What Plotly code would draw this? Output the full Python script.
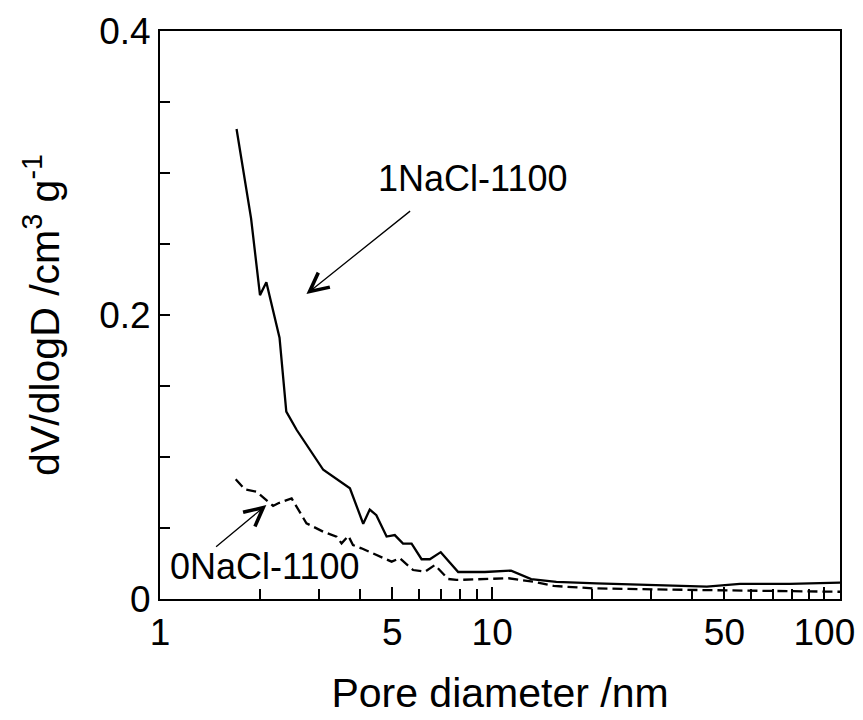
import numpy as np
import plotly.graph_objects as go

# 1NaCl-1100 (solid)
d1 = [1.70, 1.88, 2.00, 2.09, 2.29, 2.40, 2.58, 3.10, 3.73, 4.09, 4.28, 4.48, 4.81, 5.09,
      5.39, 5.72, 6.13, 6.49, 7.00, 7.90, 9.50, 11.4, 13.1, 15.6, 20.6, 44.3, 55.7, 78.8, 111.5]
v1 = [0.331, 0.268, 0.214, 0.223, 0.184, 0.132, 0.119, 0.091, 0.078, 0.053, 0.063, 0.059, 0.044, 0.045,
      0.039, 0.039, 0.028, 0.028, 0.033, 0.019, 0.019, 0.020, 0.014, 0.012, 0.011, 0.0087, 0.0106, 0.0106, 0.0115]

# 0NaCl-1100 (dashed)
d0 = [1.69, 1.80, 1.95, 2.19, 2.27, 2.49, 2.76, 3.10, 3.40, 3.52, 3.69, 3.81, 4.04, 4.59, 4.98,
      5.27, 5.78, 6.27, 6.72, 7.37, 7.81, 11.2, 13.3, 15.3, 20.1, 42.3, 111.5]
v0 = [0.0843, 0.0773, 0.0756, 0.0655, 0.0674, 0.0709, 0.0533, 0.0474, 0.0439, 0.0392, 0.0444, 0.038,
      0.0357, 0.0298, 0.0263, 0.0287, 0.0204, 0.0192, 0.0239, 0.0141, 0.0134, 0.0146, 0.0122, 0.0092,
      0.0075, 0.0063, 0.0051]

x_tick_vals = [1, 5, 10, 50, 100]
x_tick_text = ["1", "5", "10", "50", "100"]
x_minor_vals = [2, 3, 4, 6, 7, 8, 9, 20, 30, 40, 60, 70, 80, 90]
y_tick_vals = [0, 0.2, 0.4]
y_tick_text = ["0", "0.2", "0.4"]
y_minor_vals = [0.05, 0.1, 0.15, 0.25, 0.3, 0.35]

# annotations: (label, text position, arrow tail, arrow tip)
labels = ["1NaCl-1100", "0NaCl-1100"]
label_xy = [(8.7, 0.296), (2.07, 0.023)]
arrow_tail = [(5.72, 0.274), (1.46, 0.0359)]
arrow_tip = [(2.76, 0.2148), (2.09, 0.0662)]

TICKFONT = dict(family="Liberation Sans, Arial, Helvetica", size=37, color="black")
FONT = dict(family="Liberation Sans, Arial, Helvetica", size=41, color="black")

fig = go.Figure()
fig.add_trace(go.Scatter(x=d1, y=v1, mode="lines", line=dict(color="black", width=2.3), showlegend=False))
fig.add_trace(go.Scatter(x=d0, y=v0, mode="lines", line=dict(color="black", width=2.3, dash="10px,5px"),
                         showlegend=False))

for lab, (tx, ty), (ax_, ay_), (hx, hy) in zip(labels, label_xy, arrow_tail, arrow_tip):
    fig.add_annotation(x=np.log10(tx), y=ty, xref="x", yref="y", text=lab, showarrow=False,
                       font=dict(family="Liberation Sans, Arial", size=36, color="black"))
    fig.add_annotation(x=np.log10(hx), y=hy, ax=np.log10(ax_), ay=ay_, xref="x", yref="y",
                       axref="x", ayref="y", text="", showarrow=True, arrowhead=5,
                       arrowsize=2.8, arrowwidth=1.3, arrowcolor="black", standoff=0)

fig.update_xaxes(type="log", range=[0, 2.047], tickvals=x_tick_vals, ticktext=x_tick_text,
                 ticks="inside", ticklen=12, tickwidth=2, tickcolor="black",
                 minor=dict(tickvals=x_minor_vals, ticks="inside", ticklen=10, tickwidth=2, tickcolor="black"),
                 showline=True, linecolor="black", linewidth=2, mirror=True, showgrid=False, zeroline=False,
                 tickfont=TICKFONT, automargin=False,
                 title=dict(text="Pore diameter /nm", font=FONT, standoff=26))
fig.update_yaxes(range=[0, 0.4], tickvals=y_tick_vals, ticktext=y_tick_text,
                 ticks="inside", ticklen=10, tickwidth=2, tickcolor="black",
                 minor=dict(tickvals=y_minor_vals, ticks="inside", ticklen=10, tickwidth=2, tickcolor="black"),
                 showline=True, linecolor="black", linewidth=2, mirror=True, showgrid=False, zeroline=False,
                 tickfont=TICKFONT, automargin=False,
                 title=dict(text="dV/dlogD /cm<sup>3</sup> g<sup>-1</sup>", font=FONT, standoff=27))
fig.update_layout(width=855, height=712, margin=dict(l=152, r=23, t=23, b=121),
                  paper_bgcolor="white", plot_bgcolor="white")
fig.write_html("out.html")
